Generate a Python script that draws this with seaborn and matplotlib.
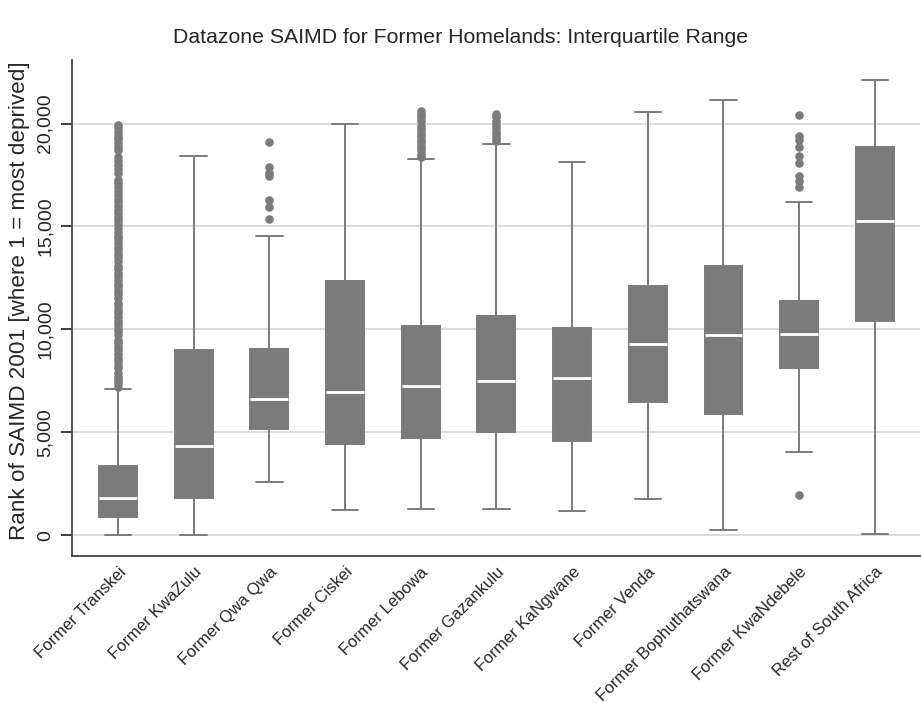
import numpy as np
import pandas as pd
import matplotlib
matplotlib.use("Agg")
import matplotlib.pyplot as plt
import seaborn as sns
from matplotlib.ticker import FuncFormatter

regions = ["Former Transkei", "Former KwaZulu", "Former Qwa Qwa", "Former Ciskei",
           "Former Lebowa", "Former Gazankulu", "Former KaNgwane", "Former Venda",
           "Former Bophuthatswana", "Former KwaNdebele", "Rest of South Africa"]

# five-number summary: lower whisker, q1, median, q3, upper whisker
whisker_lo = [0, 0, 2600, 1220, 1270, 1270, 1190, 1740, 240, 4040, 50]
q1 = [890, 1820, 5160, 4410, 4700, 5010, 4570, 6470, 5870, 8110, 10380]
median = [1790, 4350, 6630, 6940, 7250, 7510, 7620, 9280, 9730, 9780, 15280]
q3 = [3360, 9000, 9050, 12360, 10160, 10660, 10060, 12120, 13090, 11400, 18850]
whisker_hi = [7090, 18440, 14550, 20000, 18300, 19030, 18130, 20550, 21130, 16190, 22140]

# outside values
out_transkei = [7200, 7380, 7550, 7700, 7900, 8100, 8250, 8450, 8600, 8800, 9000, 9150,
                9350, 9500, 9700, 9900, 10050, 10250, 10400, 10600, 10800, 10950, 11150,
                11300, 11500, 11700, 11850, 12050, 12200, 12400, 12600, 12750, 12950,
                13100, 13300, 13500, 13650, 13850, 14000, 14200, 14400, 14550, 14750,
                14900, 15100, 15300, 15450, 15650, 15800, 16000, 16200, 16350, 16550,
                16700, 16900, 17100, 17250, 17600, 17800, 18000, 18200, 18350, 18700,
                18850, 19050, 19250, 19400, 19600, 19800, 19950]
out_qwaqwa = [15350, 15950, 16300, 17450, 17600, 17900, 19100]
out_lebowa = [18350, 18500, 18700, 18850, 19050, 19200, 19400, 19550, 19750, 19900,
              20100, 20300, 20450, 20600]
out_gazankulu = [19150, 19300, 19450, 19600, 19800, 19950, 20100, 20300, 20450]
out_kwandebele = [1960, 16900, 17200, 17450, 18100, 18400, 18850, 19200, 19400, 20400]

gray = "#7b7b7b"

rows = []
for i, r in enumerate(regions):
    for v in (whisker_lo[i], q1[i], median[i], q3[i], whisker_hi[i]):
        rows.append((r, v))
box_df = pd.DataFrame(rows, columns=["region", "rank"])

out_rows = []
for r, vals in [("Former Transkei", out_transkei), ("Former Qwa Qwa", out_qwaqwa),
                ("Former Lebowa", out_lebowa), ("Former Gazankulu", out_gazankulu),
                ("Former KwaNdebele", out_kwandebele)]:
    for v in vals:
        out_rows.append((r, v))
out_df = pd.DataFrame(out_rows, columns=["region", "rank"])

sns.set_style("white")
plt.rcParams['font.family'] = ['Liberation Sans', 'DejaVu Sans']

fig = plt.figure(figsize=(9.22, 7.03), dpi=100)
ax = fig.add_axes([0.078, 0.209, 0.92, 0.706])

ax.yaxis.grid(True, color="#d9d9d9", linewidth=1.3, zorder=0)
ax.set_axisbelow(True)

sns.boxplot(data=box_df, x="region", y="rank", order=regions, whis=(0, 100),
            showfliers=False, color=gray, saturation=1, width=0.5,
            linecolor=gray, linewidth=1.4,
            medianprops={"color": "white", "linewidth": 2}, ax=ax)
sns.stripplot(data=out_df, x="region", y="rank", order=regions, jitter=False,
              color=gray, size=6.2, linewidth=0, ax=ax, zorder=3)

# caps a bit wider, like the original
for line in ax.lines:
    xd = np.asarray(line.get_xdata(), dtype=float)
    yd = np.asarray(line.get_ydata(), dtype=float)
    if len(xd) == 2 and yd[0] == yd[1] and xd[0] != xd[1]:
        c = xd.mean()
        half = abs(xd[1] - xd[0]) / 2
        if half < 0.2:
            line.set_xdata([c - 0.175, c + 0.175])

ax.set_xlim(-0.61, 10.6)
ax.set_ylim(-1020, 23100)
ax.set_yticks([0, 5000, 10000, 15000, 20000])
ax.yaxis.set_major_formatter(FuncFormatter(lambda v, p: "{:,.0f}".format(v)))
ax.tick_params(axis="y", labelsize=14, length=8, width=1.3, color="#333333",
               pad=5, left=True)
for t in ax.get_yticklabels():
    t.set_rotation(90)
    t.set_va("center")
ax.tick_params(axis="x", length=0, labelsize=12, pad=6)
ax.set_xticks(range(len(regions)))
ax.set_xticklabels(regions, rotation=45, ha="right", rotation_mode="anchor")

ax.set_xlabel("")
ax.set_ylabel("Rank of SAIMD 2001 [where 1 = most deprived]", fontsize=16.2, labelpad=4)
ax.yaxis.set_label_coords(-0.05, 0.515)
sns.despine(ax=ax)
for s in ["left", "bottom"]:
    ax.spines[s].set_color("#444444")
    ax.spines[s].set_linewidth(1.3)

fig.suptitle("Datazone SAIMD for Former Homelands: Interquartile Range",
             fontsize=15.3, x=0.5, y=0.947, va="center")

fig.savefig("out.png", dpi=100)
